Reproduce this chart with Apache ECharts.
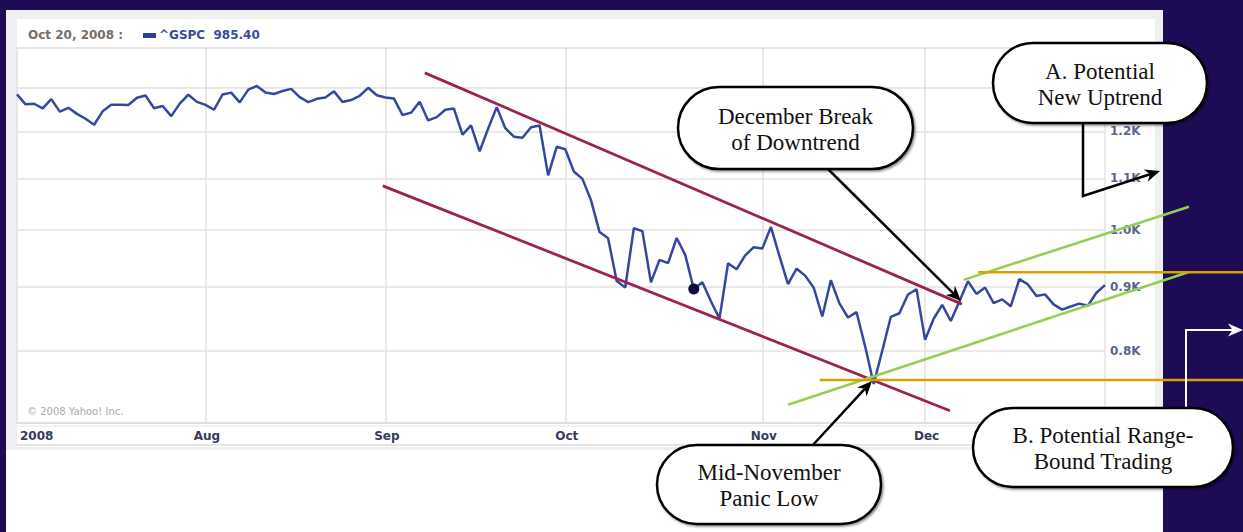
<!DOCTYPE html>
<html>
<head>
<meta charset="utf-8">
<script src="https://cdn.jsdelivr.net/npm/echarts@6.0.0/dist/echarts.min.js"></script>
<style>
  html, body { margin:0; padding:0; background:#1d0b56; }
  #wrap { position:relative; width:1243px; height:532px; overflow:hidden; background:#1d0b56; }
  .panel { position:absolute; }
  #main { position:absolute; left:0; top:0; width:1243px; height:532px; }
</style>
</head>
<body>
<div id="wrap">
  <div class="panel" style="left:6px;top:10px;width:1157px;height:442px;background:#efefef;"></div>
  <div class="panel" style="left:17px;top:19px;width:1138px;height:428px;background:#ffffff;"></div>
  <div class="panel" style="left:6px;top:450px;width:1157px;height:82px;background:#ffffff;"></div>
  <div id="main"></div>
</div>
<script>
// ---- Trading days (day of month) ----
const daysJul = [1,2,3,7,8,9,10,11,14,15,16,17,18,21,22,23,24,25,28,29,30,31];
const daysAug = [1,4,5,6,7,8,11,12,13,14,15,18,19,20,21,22,25,26,27,28,29];
const daysSep = [2,3,4,5,8,9,10,11,12,15,16,17,18,19,22,23,24,25,26,29,30];
const daysOct = [1,2,3,6,7,8,9,10,13,14,15,16,17,20,21,22,23,24,27,28,29,30,31];
const daysNov = [3,4,5,6,7,10,11,12,13,14,17,18,19,20,21,24,25,26,28];
const daysDec = [1,2,3,4,5,8,9,10,11,12,15,16,17,18,19,22,23,24,26,29,30,31];

// ---- ^GSPC closes ----
const closesJul = [1284.91,1261.52,1262.90,1252.31,1273.70,1244.69,1253.39,1239.49,1228.30,1214.91,1245.36,1260.32,1260.68,1260.00,1277.00,1282.19,1252.54,1257.76,1234.37,1263.20,1284.26,1267.38];
const closesAug = [1260.31,1249.01,1284.88,1289.19,1266.07,1296.32,1305.32,1289.59,1285.83,1292.93,1298.20,1278.60,1266.69,1274.54,1277.72,1292.20,1266.84,1271.51,1281.66,1300.68,1282.83];
const closesSep = [1277.58,1274.98,1236.83,1242.31,1267.79,1224.51,1232.04,1249.05,1251.70,1192.70,1213.60,1156.39,1206.51,1255.08,1207.09,1188.22,1185.87,1209.18,1213.27,1106.39,1166.36];
const closesOct = [1161.06,1114.28,1099.23,1056.89,996.23,984.94,909.92,899.22,1003.35,998.01,907.84,946.43,940.55,985.40,955.05,896.78,908.11,876.77,848.92,940.51,930.09,954.09,968.75];
const closesNov = [966.30,1005.75,952.77,904.88,930.99,919.21,898.95,852.30,911.29,873.29,850.75,859.12,806.58,752.44,800.03,851.81,857.39,887.68,896.24];
const closesDec = [816.21,848.81,870.74,845.22,876.07,909.70,888.67,899.24,873.59,879.73,868.57,913.18,904.42,885.28,887.88,871.63,863.16,868.15,872.80,869.42,890.64,903.25];

// ---- Axis labels ----
const monthLabels = ['2008','Aug','Sep','Oct','Nov','Dec'];
const yTickValues = [800, 900, 1000, 1100, 1200, 1300];
const yLabelValues = [800, 900, 1000, 1100, 1200];

// ---- Hovered point ----
const markedDate = '2008-10-22';

// ---- Hand-drawn annotation lines, in [trading-day index, index level] ----
const channelUpper = [[47.6, 1337], [110.3, 872]];
const channelLower = [[42.7, 1085], [108.9, 716]];
const uptrendLower = [[90.0, 724], [136.7, 925]];
const uptrendUpper = [[110.5, 912], [136.8, 1044]];
const rangeTop     = [[112.2, 925], [143.1, 925]];
const rangeBottom  = [[93.7, 758], [143.1, 758]];

// ---- build categories ----
const pad = n => (n < 10 ? '0' : '') + n;
const monthDays = [daysJul, daysAug, daysSep, daysOct, daysNov, daysDec];
const dates = [];
const monthStartIdx = [];
monthDays.forEach((arr, m) => {
  monthStartIdx.push(dates.length);
  arr.forEach(d => dates.push('2008-' + pad(m + 7) + '-' + pad(d)));
});
const closes = [].concat(closesJul, closesAug, closesSep, closesOct, closesNov, closesDec);

const chart = echarts.init(document.getElementById('main'), null, {renderer: 'svg', width: 1243, height: 532});

const gridColor = '#e2e2e2';
const option = {
  animation: false,
  backgroundColor: 'transparent',
  grid: {left: 17, right: 138, top: 48, bottom: 109, containLabel: false, outerBoundsMode: 'none'},
  xAxis: {
    type: 'category',
    data: dates,
    boundaryGap: false,
    axisLine: {show: true, lineStyle: {color: '#d6d6d6', width: 1.5}},
    axisTick: {show: false},
    axisLabel: {
      interval: (i) => monthStartIdx.indexOf(i) >= 0,
      formatter: (v, i) => { const k = monthStartIdx.indexOf(i); return k >= 0 ? monthLabels[k] : ''; },
      color: '#363b5a', fontWeight: 'bold', fontSize: 12, fontFamily: 'DejaVu Sans',
      margin: 7, alignMinLabel: 'left', padding: [0, 0, 0, 3]
    },
    splitLine: {show: true, interval: (i) => monthStartIdx.indexOf(i) >= 0, lineStyle: {color: gridColor, width: 1.5}}
  },
  yAxis: {
    type: 'log', logBase: 10, position: 'right', min: 700, max: 1400,
    axisLine: {show: true, lineStyle: {color: gridColor, width: 1.5}},
    axisTick: {show: false, customValues: yTickValues},
    axisLabel: {
      customValues: yLabelValues,
      formatter: v => (v / 1000).toFixed(1) + 'K',
      color: '#5a6590', fontWeight: 'bold', fontSize: 12, fontFamily: 'DejaVu Sans', margin: 5
    },
    splitLine: {show: true, lineStyle: {color: gridColor, width: 1.5}}
  },
  series: [{
    type: 'line',
    data: closes,
    symbol: 'none',
    lineStyle: {color: '#34489f', width: 2.5},
    z: 3,
    markPoint: {
      symbol: 'circle', symbolSize: 11,
      itemStyle: {color: '#0c0c3c'},
      label: {show: false},
      data: [{coord: [markedDate, closes[dates.indexOf(markedDate)]]}]
    }
  }]
};
chart.setOption(option);

// pixel helpers through the chart's own axes
const px0 = chart.convertToPixel({xAxisIndex: 0}, dates[0]);
const px1 = chart.convertToPixel({xAxisIndex: 0}, dates[1]);
const toPx = (p) => [px0 + p[0] * (px1 - px0), chart.convertToPixel({yAxisIndex: 0}, p[1])];

function seg(points, color, width) {
  const a = toPx(points[0]), b = toPx(points[1]);
  return {type: 'line', z: 20, silent: true,
    shape: {x1: a[0], y1: a[1], x2: b[0], y2: b[1]},
    style: {stroke: color, lineWidth: width, lineCap: 'butt'}};
}
function head(tip, from, color, len, hw) {
  const dx = tip[0] - from[0], dy = tip[1] - from[1];
  const L = Math.sqrt(dx * dx + dy * dy);
  const ux = dx / L, uy = dy / L, nx = -uy, ny = ux;
  const bx = tip[0] - ux * len, by = tip[1] - uy * len;
  return {type: 'polygon', z: 40, silent: true,
    shape: {points: [tip, [bx + nx * hw, by + ny * hw], [tip[0] - ux * len * 0.7, tip[1] - uy * len * 0.7], [bx - nx * hw, by - ny * hw]]},
    style: {fill: color}};
}
function arrowPath(pts, color, width) {
  const t = pts[pts.length - 1], f = pts[pts.length - 2];
  const dx = t[0] - f[0], dy = t[1] - f[1], L = Math.sqrt(dx * dx + dy * dy);
  const end = [t[0] - dx / L * 8, t[1] - dy / L * 8];
  return [
    {type: 'polyline', z: 40, silent: true, shape: {points: pts.slice(0, -1).concat([end])}, style: {stroke: color, lineWidth: width, fill: null}},
    head(t, f, color, 15, 6.5)
  ];
}
function callout(x, y, w, h, text) {
  return [
    {type: 'rect', z: 50, silent: true, shape: {x: x, y: y, width: w, height: h, r: h / 2},
      style: {fill: '#ffffff', stroke: '#000000', lineWidth: 2.5,
        shadowBlur: 2, shadowOffsetX: 1.5, shadowOffsetY: 1.5, shadowColor: 'rgba(0,0,0,0.45)'}},
    {type: 'text', z: 51, silent: true, x: x + w / 2, y: y + h / 2 + 1,
      style: {text: text, fill: '#111111', font: '23px "Liberation Serif"', align: 'center', verticalAlign: 'middle', lineHeight: 26}}
  ];
}

const maroon = '#9a2350', green = '#92d050', gold = '#d9a000';
let g = [
  // header
  {type: 'line', z: 5, silent: true, shape: {x1: 17, y1: 48, x2: 1155, y2: 48}, style: {stroke: '#dcdcdc', lineWidth: 1.5}},
  {type: 'text', z: 6, x: 28, y: 35, style: {text: 'Oct 20, 2008 :', fill: '#756e68', font: 'bold 12px "DejaVu Sans"', align: 'left', verticalAlign: 'middle'}},
  {type: 'rect', z: 6, shape: {x: 143, y: 33, width: 13, height: 5}, style: {fill: '#2e3f9a'}},
  {type: 'text', z: 6, x: 159, y: 35, style: {text: '^GSPC  985.40', fill: '#3a4aa0', font: 'bold 12px "DejaVu Sans"', align: 'left', verticalAlign: 'middle'}},
  {type: 'text', z: 6, x: 27, y: 411, style: {text: '\u00a9 2008 Yahoo! Inc.', fill: '#aaaaaa', font: '10px "DejaVu Sans"', align: 'left', verticalAlign: 'middle'}},
  // x-axis band
  {type: 'line', z: 5, silent: true, shape: {x1: 17, y1: 426, x2: 1155, y2: 426}, style: {stroke: '#e6e6e6', lineWidth: 1}},
  {type: 'line', z: 5, silent: true, shape: {x1: 17, y1: 445, x2: 1155, y2: 445}, style: {stroke: '#dcdcdc', lineWidth: 1.5}},
  // trend lines
  seg(channelUpper, maroon, 2.8),
  seg(channelLower, maroon, 2.8),
  seg(uptrendUpper, green, 2.6),
  seg(uptrendLower, green, 2.6),
  seg(rangeTop, gold, 2.6),
  seg(rangeBottom, gold, 2.6)
];
g = g.concat(arrowPath([[828, 169], [961, 301]], '#000000', 2.5));
g = g.concat(arrowPath([[812, 446], [872, 381]], '#000000', 2.5));
g = g.concat(arrowPath([[1083, 123], [1083, 196], [1160, 171]], '#000000', 2.5));
g = g.concat(arrowPath([[1186, 408], [1186, 330], [1243, 330]], '#ffffff', 2));
g = g.concat(callout(678, 87, 235, 82, 'December Break\nof Downtrend'));
g = g.concat(callout(993, 43, 214, 80, 'A. Potential\nNew Uptrend'));
g = g.concat(callout(657, 445, 224, 79, 'Mid-November\nPanic Low'));
g = g.concat(callout(973, 408, 260, 79, 'B. Potential Range-\nBound Trading'));

chart.setOption({graphic: {elements: g}});
</script>
</body>
</html>
